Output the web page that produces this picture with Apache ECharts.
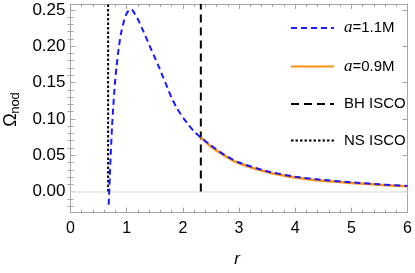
<!DOCTYPE html>
<html>
<head>
<meta charset="utf-8">
<script src="https://cdn.jsdelivr.net/npm/echarts@6/dist/echarts.min.js"></script>
<style>
html,body{margin:0;padding:0;background:#fff;}
#c{width:415px;height:273px;}
</style>
</head>
<body>
<div id="c"></div>
<script>
// ---- data ----
const blueR = [0.68, 0.70, 0.72, 0.74, 0.76, 0.79, 0.82, 0.86, 0.90, 0.95, 1.00, 1.065, 1.10, 1.20, 1.30, 1.40, 1.48, 1.56, 1.63, 1.72, 1.80, 1.90, 2.01, 2.10, 2.22, 2.32, 2.50, 2.75, 3.00, 3.50, 4.00, 4.50, 5.00, 5.50, 6.00];
const blueV = [-0.018, 0.020, 0.058, 0.090, 0.115, 0.148, 0.172, 0.198, 0.218, 0.234, 0.245, 0.251, 0.250, 0.237, 0.220, 0.202, 0.188, 0.174, 0.161, 0.144, 0.129, 0.114, 0.101, 0.092, 0.081, 0.0745, 0.0635, 0.050, 0.040, 0.028, 0.0205, 0.016, 0.0128, 0.010, 0.0077];
const orangeR = [2.32, 2.50, 2.75, 3.00, 3.50, 4.00, 4.50, 5.00, 5.50, 6.00];
const orangeV = [0.0745, 0.062, 0.049, 0.039, 0.027, 0.0195, 0.015, 0.012, 0.0095, 0.0072];
const bhIscoR = [2.32, 2.32];
const bhIscoV = [0.0, 0.258];
const nsIscoR = [0.67, 0.67];
const nsIscoV = [0.0, 0.258];
const yMajor = [0.00, 0.05, 0.10, 0.15, 0.20, 0.25];
const yMinor = [-0.02, -0.01, 0.01, 0.02, 0.03, 0.04, 0.06, 0.07, 0.08, 0.09, 0.11, 0.12, 0.13, 0.14, 0.16, 0.17, 0.18, 0.19, 0.21, 0.22, 0.23, 0.24];
const seriesNames = ['a=1.1M', 'a=0.9M', 'BH ISCO', 'NS ISCO'];

const zip = (a, b) => a.map((x, i) => [x, b[i]]);
const FONT = 'Liberation Sans';
const FRAME = '#a6a6a6';

const chart = echarts.init(document.getElementById('c'), null, {renderer: 'canvas'});

const xCommon = {
  type: 'value', min: 0, max: 6, interval: 1,
  axisLine: {show: true, onZero: false, lineStyle: {color: FRAME, width: 1}},
  axisTick: {show: true, inside: true, length: 5, lineStyle: {color: FRAME}},
  minorTick: {show: true, splitNumber: 5, length: 3, lineStyle: {color: FRAME}},
  splitLine: {show: false}
};
const yBase = {
  type: 'value', min: -0.029, max: 0.258,
  splitLine: {show: false}
};

chart.setOption({
  animation: false,
  backgroundColor: '#fff',
  grid: {left: 70.5, right: 6.7, top: 4, bottom: 60.3, containLabel: false},
  xAxis: [
    Object.assign({}, xCommon, {
      position: 'bottom',
      axisLabel: {show: true, margin: 8, color: '#000', fontSize: 16, fontFamily: FONT}
    }),
    Object.assign({}, xCommon, {
      position: 'top',
      axisLabel: {show: false}
    })
  ],
  yAxis: [
    Object.assign({}, yBase, {
      position: 'left',
      axisLine: {show: true, onZero: false, lineStyle: {color: FRAME, width: 1}},
      axisTick: {show: true, inside: true, length: 5, customValues: yMajor, lineStyle: {color: FRAME}},
      axisLabel: {show: true, margin: 5, color: '#000', fontSize: 17, fontFamily: FONT,
        customValues: yMajor, formatter: v => v.toFixed(2)}
    }),
    Object.assign({}, yBase, {
      position: 'left',
      axisLine: {show: false},
      axisTick: {show: true, inside: true, length: 3, customValues: yMinor, lineStyle: {color: FRAME}},
      axisLabel: {show: false}
    }),
    Object.assign({}, yBase, {
      position: 'right',
      axisLine: {show: true, onZero: false, lineStyle: {color: FRAME, width: 1}},
      axisTick: {show: true, inside: true, length: 5, customValues: yMajor, lineStyle: {color: FRAME}},
      axisLabel: {show: false}
    }),
    Object.assign({}, yBase, {
      position: 'right',
      axisLine: {show: false},
      axisTick: {show: true, inside: true, length: 3, customValues: yMinor, lineStyle: {color: FRAME}},
      axisLabel: {show: false}
    })
  ],
  legend: {
    orient: 'vertical',
    left: 285, top: 14.5,
    itemWidth: 43, itemHeight: 14, itemGap: 21.5,
    data: seriesNames,
    itemStyle: {opacity: 0, borderWidth: 0},
    textStyle: {
      color: '#000', fontSize: 15, fontFamily: FONT, padding: [0, 0, 0, 5],
      rich: {
        i: {fontStyle: 'italic', fontFamily: 'Liberation Serif', fontSize: 17, color: '#000'},
        t: {fontSize: 15, fontFamily: FONT, color: '#000'}
      }
    },
    formatter: name => name.startsWith('a=') ? '{i|a}{t|' + name.slice(1) + '}' : name
  },
  series: [
    {
      name: 'NS ISCO', type: 'line', xAxisIndex: 0, yAxisIndex: 0,
      data: zip(nsIscoR, nsIscoV), symbol: 'none', silent: true,
      lineStyle: {color: '#000', width: 2, type: [2.5, 2]}, itemStyle: {color: '#000'},
      z: 2
    },
    {
      name: 'BH ISCO', type: 'line', xAxisIndex: 0, yAxisIndex: 0,
      data: zip(bhIscoR, bhIscoV), symbol: 'none', silent: true,
      lineStyle: {color: '#000', width: 2, type: [8, 5]}, itemStyle: {color: '#000'},
      z: 2,
      markLine: {
        silent: true, symbol: 'none', label: {show: false},
        lineStyle: {color: '#e3e3e3', width: 1.5, type: 'solid'},
        data: [{yAxis: 0}], z: 1
      }
    },
    {
      name: 'a=0.9M', type: 'line', xAxisIndex: 0, yAxisIndex: 0,
      data: zip(orangeR, orangeV), symbol: 'none', smooth: 0.3,
      lineStyle: {color: '#ff9012', width: 2.5, type: 'solid'}, itemStyle: {color: '#ff9012'},
      z: 3
    },
    {
      name: 'a=1.1M', type: 'line', xAxisIndex: 0, yAxisIndex: 0,
      data: zip(blueR, blueV), symbol: 'none', smooth: 0.2,
      lineStyle: {color: '#1a1aff', width: 2, type: [6, 4]}, itemStyle: {color: '#1a1aff'},
      z: 4
    }
  ],
  graphic: [
    {type: 'text', x: 11, y: 120, rotation: Math.PI / 2,
      style: {text: 'Ω', fontSize: 18, fontFamily: FONT, fill: '#000', align: 'center', verticalAlign: 'middle'}},
    {type: 'text', x: 15.5, y: 103, rotation: Math.PI / 2,
      style: {text: 'nod', fontSize: 13, fontFamily: FONT, fill: '#000', align: 'center', verticalAlign: 'middle'}},
    {type: 'text', x: 237, y: 259,
      style: {text: 'r', fontSize: 17, fontStyle: 'italic', fontFamily: FONT, fill: '#000', align: 'center', verticalAlign: 'middle'}}
  ]
});
</script>
</body>
</html>
